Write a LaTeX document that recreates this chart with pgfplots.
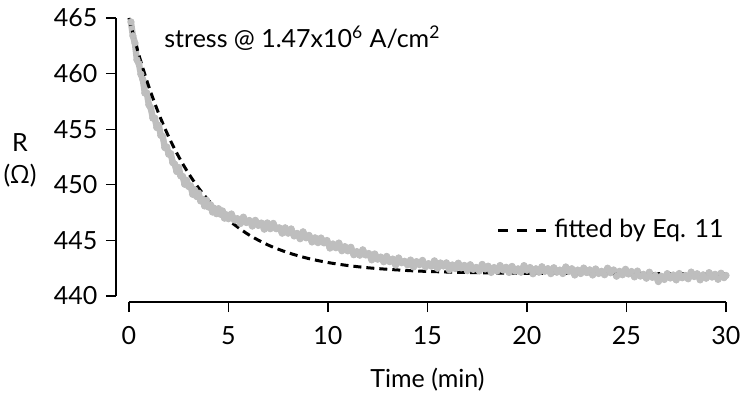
\documentclass[border=0pt]{standalone}
\usepackage{fontspec}
\setmainfont{Lato}
\newfontfamily\gfont{Open Sans}
\usepackage{pgfplots}
\usepackage{pgfplotstable}
\pgfplotsset{compat=1.18}
\definecolor{dotgray}{RGB}{190,190,190}
\pgfplotstableread{
t R
0.1 464.65
0.2 463.40
0.3 462.75
0.4 461.25
0.5 460.90
0.6 459.95
0.7 459.45
0.8 458.25
0.9 458.25
1.0 457.20
1.1 456.90
1.2 456.00
1.3 456.00
1.4 455.15
1.5 455.35
1.6 454.45
1.7 454.35
1.8 453.35
1.9 453.40
2.0 452.75
2.1 452.80
2.2 452.00
2.3 451.85
2.4 451.20
2.5 451.55
2.6 450.80
2.7 450.75
2.8 450.05
2.9 450.40
3.0 449.85
3.1 449.90
3.2 449.15
3.3 449.55
3.4 448.95
3.5 449.25
3.6 448.55
3.7 448.70
3.8 448.10
3.9 448.60
4.0 448.00
4.1 448.20
4.2 447.55
4.3 447.85
4.4 447.40
4.5 447.85
4.6 447.35
4.7 447.65
4.8 447.00
4.9 447.30
5.0 446.95
5.15 447.37
5.30 446.84
5.45 446.95
5.60 446.52
5.75 447.09
5.90 446.61
6.05 446.79
6.20 446.29
6.35 446.80
6.50 446.35
6.65 446.56
6.80 446.01
6.95 446.57
7.10 446.05
7.25 446.53
7.40 446.05
7.55 446.13
7.70 445.65
7.85 446.13
8.00 445.65
8.15 446.03
8.30 445.40
8.45 445.63
8.60 445.15
8.75 445.77
8.90 445.23
9.05 445.45
9.20 444.86
9.35 445.23
9.50 444.80
9.65 445.21
9.80 444.78
9.95 444.99
10.10 444.31
10.25 444.68
10.40 444.34
10.55 444.76
10.70 444.07
10.85 444.44
11.00 444.06
11.15 444.38
11.30 443.71
11.45 443.99
11.60 443.67
11.75 444.15
11.90 443.69
12.05 443.82
12.20 443.25
12.35 443.78
12.50 443.31
12.65 443.50
12.80 443.08
12.95 443.56
13.10 443.09
13.25 443.32
13.40 442.79
13.55 443.42
13.70 442.99
13.85 443.12
14.00 442.80
14.15 443.23
14.30 442.61
14.45 443.09
14.60 442.82
14.75 443.20
14.90 442.63
15.05 442.91
15.20 442.68
15.35 443.16
15.50 442.49
15.65 442.97
15.80 442.70
15.95 442.98
16.10 442.36
16.25 442.79
16.40 442.47
16.55 442.95
16.70 442.53
16.85 442.75
17.00 442.28
17.15 442.81
17.30 442.39
17.45 442.57
17.60 442.25
17.75 442.84
17.90 442.43
18.05 442.68
18.20 442.12
18.35 442.56
18.50 442.25
18.65 442.74
18.80 442.34
18.95 442.58
19.10 442.12
19.25 442.66
19.40 442.25
19.55 442.44
19.70 442.14
19.85 442.73
20.00 442.32
20.15 442.56
20.30 442.00
20.45 442.45
20.60 442.14
20.75 442.63
20.90 442.22
21.05 442.46
21.20 442.01
21.35 442.54
21.50 442.14
21.65 442.33
21.80 442.02
21.95 442.61
22.10 442.20
22.25 442.45
22.40 441.89
22.55 442.33
22.70 442.02
22.85 442.51
23.00 442.11
23.15 442.35
23.30 441.89
23.45 442.43
23.60 442.03
23.75 442.22
23.90 441.91
24.05 442.50
24.20 442.09
24.35 442.34
24.50 441.78
24.65 442.22
24.80 441.91
24.95 442.40
25.10 441.98
25.25 442.20
25.40 441.72
25.55 442.24
25.70 441.79
25.85 441.95
26.00 441.60
26.15 442.14
26.30 441.68
26.45 441.87
26.60 441.30
26.75 441.77
26.90 441.49
27.05 442.01
27.20 441.62
27.35 441.89
27.50 441.45
27.65 442.02
27.80 441.64
27.95 441.85
28.10 441.55
28.25 442.15
28.40 441.75
28.55 442.00
28.70 441.45
28.85 441.90
29.00 441.60
29.15 442.10
29.30 441.70
29.45 441.95
29.60 441.50
29.75 442.05
29.90 441.65
30.00 441.85
}\measured
\pgfplotstableread{
t R
0 465.00
0.5 461.68
1 458.83
1.5 456.39
2 454.31
2.5 452.53
3 451.01
3.5 449.71
4 448.59
4.5 447.64
5 446.82
6 445.53
7 444.58
8 443.89
9 443.38
10 443.01
11 442.74
12 442.54
13 442.40
14 442.29
15 442.21
17 442.11
20 442.04
25 442.01
30 442.00
}\fitted
\begin{document}
\fontsize{12.5}{15}\selectfont
\begin{tikzpicture}
\path[use as bounding box] (-58pt,-47pt) rectangle (312pt,151pt);
\begin{axis}[
  at={(0,0)}, anchor=south west,
  scale only axis, width=305pt, height=142pt,
  xmin=-0.65, xmax=30, ymin=439.46, ymax=465,
  axis x line*=bottom, axis y line*=left,
  axis line style={draw=none},
  xtick={0,5,10,15,20,25,30}, ytick={440,445,450,455,460,465},
  tick align=outside, major tick length=5pt,
  tick style={black, line width=0.6pt},
  /pgf/number format/assume math mode=true,
  ticklabel style={font=\fontsize{12.5}{15}\selectfont},
  xticklabel style={yshift=-3pt},
  clip=false,
  legend style={draw=none, fill=none, at={(1,0.252)}, anchor=east, xshift=1pt,
    inner sep=0pt, font=\fontsize{12.5}{15}\selectfont},
  legend cell align=left,
  legend image code/.code={
    \path[draw=none, fill=none] (0pt,-2pt) rectangle (26pt,2pt);
    \draw[solid, black, line width=1.5pt] (0pt,0pt) -- (5pt,0pt);
    \draw[solid, black, line width=1.5pt] (9.5pt,0pt) -- (14.5pt,0pt);
    \draw[solid, black, line width=1.5pt] (19pt,0pt) -- (24pt,0pt);},
]
% axis lines (detached)
\draw[black, line width=0.6pt] (axis cs:-0.65,440) -- (axis cs:-0.65,465);
\draw[black, line width=0.6pt] (axis cs:0,439.46) -- (axis cs:30,439.46);

\addplot[dotgray, line width=3.2pt, line join=round, forget plot] table[x=t, y=R] {\measured};
\addplot[dotgray, only marks, mark=*, mark size=1.6pt, mark options={draw=dotgray, fill=dotgray}, forget plot] table[x=t, y=R] {\measured};

\addplot[black, line width=1.5pt, dash pattern=on 4pt off 2.5pt, smooth] table[x=t, y=R] {\fitted};
\addlegendentry{fitted by Eq. 11}

\node[anchor=west, inner sep=0pt] at (axis cs:1.76,463.2) {stress @ 1.47x10\textsuperscript{6} A/cm\textsuperscript{2}};
\node[align=center, inner sep=0pt] at (rel axis cs:0,0.5) [xshift=-48pt] {R\\[1pt]({\gfont Ω})};
\node[inner sep=0pt] at (axis cs:15,439.46) [yshift=-39pt] {Time (min)};
\end{axis}
\end{tikzpicture}
\end{document}
